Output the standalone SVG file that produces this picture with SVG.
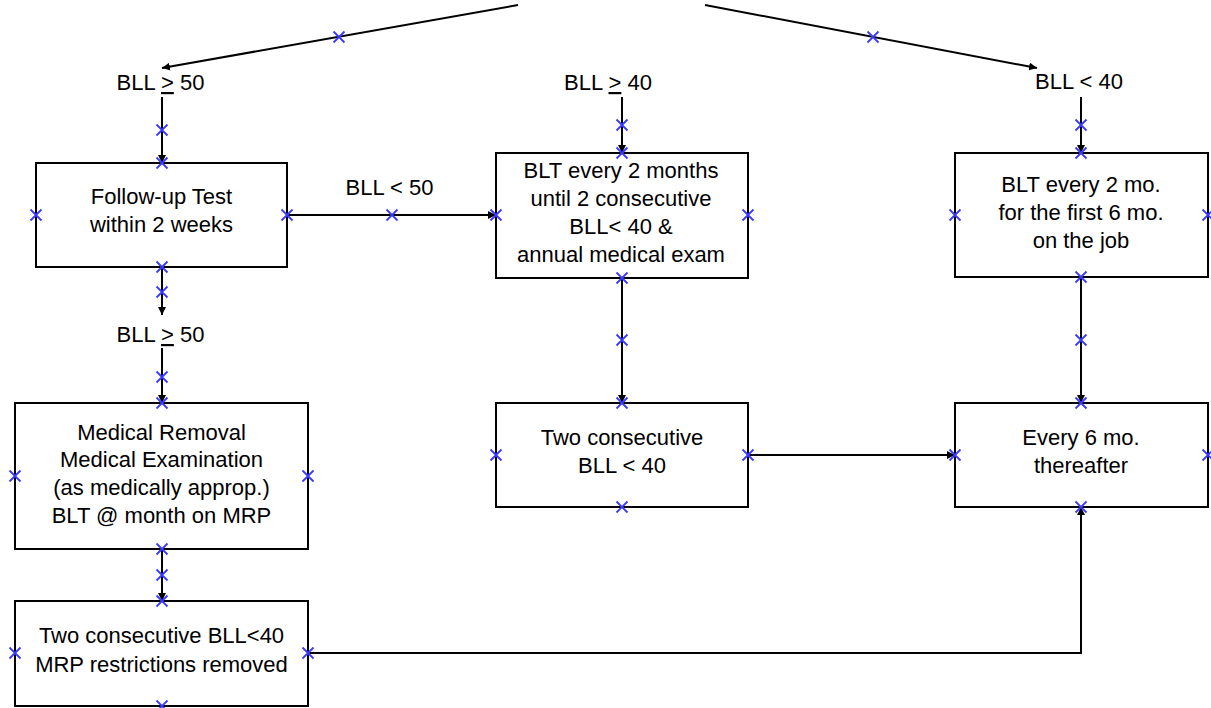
<svg xmlns="http://www.w3.org/2000/svg" xmlns:xlink="http://www.w3.org/1999/xlink" width="1211" height="708" viewBox="0 0 1211 708">
<style>
.box{fill:#fff;stroke:#000;stroke-width:2}
.t{font-family:"Liberation Sans",Arial,sans-serif;font-size:22px;fill:#000;text-anchor:middle}
.c{fill:none;stroke:#000;stroke-width:2}
.xm{fill:none;stroke:#3a3aff;stroke-width:1.8}
</style>
<defs>
<marker id="arr" viewBox="0 0 10 10" refX="10" refY="5" markerWidth="4" markerHeight="4" orient="auto"><path d="M0,0L10,5L0,10z" fill="#000"/></marker>
<path id="xm" class="xm" d="M-5.5,-5.5L5.5,5.5M-5.5,5.5L5.5,-5.5"/>
</defs>
<rect width="1211" height="708" fill="#fff"/>
<g id="connectors">
<path class="c" d="M518,5L162,68" marker-end="url(#arr)"/>
<path class="c" d="M705,5L1037,68" marker-end="url(#arr)"/>
<path class="c" d="M162,97V163" marker-end="url(#arr)"/>
<path class="c" d="M622,97V153" marker-end="url(#arr)"/>
<path class="c" d="M1081,97V153" marker-end="url(#arr)"/>
<path class="c" d="M287,215H496" marker-end="url(#arr)"/>
<path class="c" d="M162,267V315" marker-end="url(#arr)"/>
<path class="c" d="M162,348V403" marker-end="url(#arr)"/>
<path class="c" d="M162,549V601" marker-end="url(#arr)"/>
<path class="c" d="M622,278V403" marker-end="url(#arr)"/>
<path class="c" d="M1081,277V403" marker-end="url(#arr)"/>
<path class="c" d="M748,455H955" marker-end="url(#arr)"/>
<path class="c" d="M308,653H1081V507" marker-end="url(#arr)"/>
<use href="#xm" x="339" y="37"/>
<use href="#xm" x="873" y="37"/>
<use href="#xm" x="162" y="130"/>
<use href="#xm" x="622" y="125"/>
<use href="#xm" x="1081" y="125"/>
<use href="#xm" x="392" y="215"/>
<use href="#xm" x="162" y="292"/>
<use href="#xm" x="162" y="377"/>
<use href="#xm" x="162" y="575"/>
<use href="#xm" x="622" y="340"/>
<use href="#xm" x="1081" y="340"/>
</g>
<g id="label-bll-ge50-top">
<text class="t" x="160.5" y="90">BLL <tspan text-decoration="underline">&gt;</tspan> 50</text>
</g>
<g id="label-bll-ge40">
<text class="t" x="608" y="90">BLL <tspan text-decoration="underline">&gt;</tspan> 40</text>
</g>
<g id="label-bll-lt40">
<text class="t" x="1079" y="89">BLL &lt; 40</text>
</g>
<g id="label-bll-lt50">
<text class="t" x="389.5" y="195">BLL &lt; 50</text>
</g>
<g id="label-bll-ge50-mid">
<text class="t" x="160.5" y="342">BLL <tspan text-decoration="underline">&gt;</tspan> 50</text>
</g>
<g id="node-followup">
<rect class="box" x="36" y="163" width="251" height="104"/>
<text class="t" x="161.5" y="204">Follow-up Test</text>
<text class="t" x="161.5" y="232">within 2 weeks</text>
<use href="#xm" x="162" y="163"/><use href="#xm" x="36" y="215"/><use href="#xm" x="287" y="215"/><use href="#xm" x="162" y="267"/>
</g>
<g id="node-blt-2months">
<rect class="box" x="496" y="153" width="252" height="125"/>
<text class="t" x="621" y="178">BLT every 2 months</text>
<text class="t" x="621" y="206">until 2 consecutive</text>
<text class="t" x="621" y="234">BLL&lt; 40 &amp;</text>
<text class="t" x="621" y="262">annual medical exam</text>
<use href="#xm" x="622" y="153"/><use href="#xm" x="496" y="215"/><use href="#xm" x="748" y="215"/><use href="#xm" x="622" y="278"/>
</g>
<g id="node-blt-2mo">
<rect class="box" x="955" y="153" width="253" height="124"/>
<text class="t" x="1081" y="192">BLT every 2 mo.</text>
<text class="t" x="1081" y="220">for the first 6 mo.</text>
<text class="t" x="1081" y="248">on the job</text>
<use href="#xm" x="1081" y="153"/><use href="#xm" x="955" y="215"/><use href="#xm" x="1208" y="215"/><use href="#xm" x="1081" y="277"/>
</g>
<g id="node-medical-removal">
<rect class="box" x="15" y="403" width="293" height="146"/>
<text class="t" x="161.5" y="440">Medical Removal</text>
<text class="t" x="161.5" y="467">Medical Examination</text>
<text class="t" x="161.5" y="495">(as medically approp.)</text>
<text class="t" x="161.5" y="523">BLT @ month on MRP</text>
<use href="#xm" x="162" y="403"/><use href="#xm" x="15" y="476"/><use href="#xm" x="308" y="476"/><use href="#xm" x="162" y="549"/>
</g>
<g id="node-mrp-removed">
<rect class="box" x="15" y="601" width="293" height="105"/>
<text class="t" x="161.5" y="643">Two consecutive BLL&lt;40</text>
<text class="t" x="161.5" y="672">MRP restrictions removed</text>
<use href="#xm" x="162" y="601"/><use href="#xm" x="15" y="653"/><use href="#xm" x="308" y="653"/><use href="#xm" x="162" y="706"/>
</g>
<g id="node-two-consecutive">
<rect class="box" x="496" y="403" width="252" height="104"/>
<text class="t" x="622" y="445">Two consecutive</text>
<text class="t" x="622" y="473">BLL &lt; 40</text>
<use href="#xm" x="622" y="403"/><use href="#xm" x="496" y="455"/><use href="#xm" x="748" y="455"/><use href="#xm" x="622" y="507"/>
</g>
<g id="node-every-6mo">
<rect class="box" x="955" y="403" width="253" height="104"/>
<text class="t" x="1081" y="445">Every 6 mo.</text>
<text class="t" x="1081" y="473">thereafter</text>
<use href="#xm" x="1081" y="403"/><use href="#xm" x="955" y="455"/><use href="#xm" x="1208" y="455"/><use href="#xm" x="1081" y="507"/>
</g>
</svg>
